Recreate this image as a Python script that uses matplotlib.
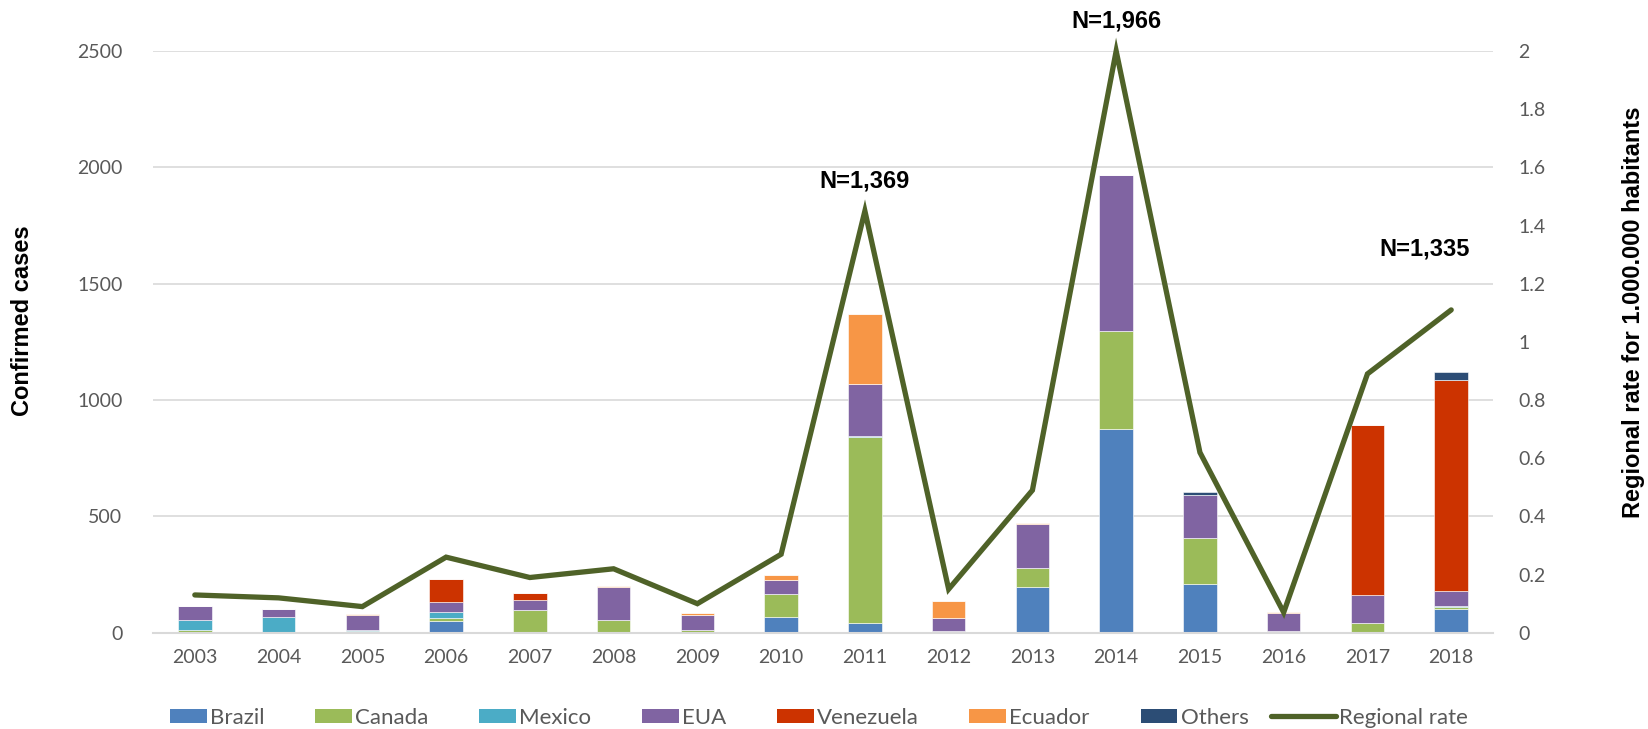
import matplotlib
matplotlib.use("Agg")
import matplotlib.pyplot as plt
import numpy as np
from matplotlib.lines import Line2D
from matplotlib.patches import Patch
from matplotlib.legend_handler import HandlerLine2D

years = ["2003", "2004", "2005", "2006", "2007", "2008", "2009", "2010",
         "2011", "2012", "2013", "2014", "2015", "2016", "2017", "2018"]

brazil = [2, 0, 0, 52, 0, 0, 0, 66, 40, 0, 195, 875, 209, 0, 0, 102]
canada = [12, 4, 8, 13, 98, 57, 11, 100, 803, 9, 83, 421, 199, 9, 43, 8]
mexico = [43, 63, 6, 26, 0, 0, 0, 0, 4, 0, 0, 0, 0, 0, 0, 7]
eua = [56, 36, 63, 43, 43, 138, 67, 62, 224, 53, 189, 670, 186, 78, 119, 62]
venezuela = [0, 0, 0, 99, 29, 0, 0, 0, 0, 0, 0, 0, 0, 0, 729, 907]
ecuador = [2, 0, 2, 0, 3, 7, 7, 22, 298, 76, 3, 0, 0, 3, 0, 2]
others = [0, 0, 0, 0, 0, 0, 0, 0, 0, 0, 0, 0, 13, 0, 0, 33]

regional_rate = [0.13, 0.12, 0.09, 0.26, 0.19, 0.22, 0.10, 0.27,
                 1.45, 0.15, 0.49, 2.00, 0.62, 0.07, 0.89, 1.11]

series_names = ["Brazil", "Canada", "Mexico", "EUA", "Venezuela", "Ecuador", "Others"]
series_values = [brazil, canada, mexico, eua, venezuela, ecuador, others]
series_colors = ["#4F81BD", "#9BBB59", "#4BACC6", "#8064A2", "#CC3300", "#F79646", "#2C4D75"]
line_color = "#4F6228"

callouts = [(8, 1940, "N=1,369"), (11, 2630, "N=1,966"), (14.68, 1648, "N=1,335")]

tick_font = "Lato"
title_font = "Liberation Sans"
grey = "#595959"


class WideLineHandler(HandlerLine2D):
    """Legend line key that reaches further left than the patch keys."""

    def __init__(self, extra, **kw):
        super().__init__(**kw)
        self.extra = extra

    def create_artists(self, legend, orig_handle, xdescent, ydescent,
                       width, height, fontsize, trans):
        y = height / 2.0 - ydescent
        ln = Line2D([-xdescent - self.extra, -xdescent + width], [y, y])
        self.update_prop(ln, orig_handle, legend)
        ln.set_transform(trans)
        return [ln]


fig = plt.figure(figsize=(16.48, 7.29), dpi=100)
ax = fig.add_axes([0.0928, 0.132, 0.8132, 0.798])

x = np.arange(len(years))
bottom = np.zeros(len(years))
for name, vals, col in zip(series_names, series_values, series_colors):
    v = np.array(vals, dtype=float)
    ax.bar(x, v, width=0.4, bottom=bottom, color=col, edgecolor="white",
           linewidth=0.4, zorder=2)
    bottom += v

ax.set_xlim(-0.5, len(years) - 0.5)
ax.set_ylim(0, 2500)
ax.set_yticks(range(0, 2501, 500))
ax.set_xticks(x)
ax.set_xticklabels(years)
ax.grid(axis="y", color="#D9D9D9", linewidth=1.2, zorder=0)
ax.set_axisbelow(True)
for side in ["left", "right", "top"]:
    ax.spines[side].set_visible(False)
ax.spines["bottom"].set_color("#D9D9D9")
ax.spines["bottom"].set_linewidth(1.5)
ax.tick_params(axis="both", length=0, labelsize=14, labelcolor=grey)
ax.tick_params(axis="y", pad=22)
ax.tick_params(axis="x", pad=12)
for lab in ax.get_xticklabels() + ax.get_yticklabels():
    lab.set_fontfamily(tick_font)

ax2 = ax.twinx()
ax2.set_ylim(0, 2)
ax2.set_yticks(np.arange(0, 2.01, 0.2))
ax2.set_yticklabels(["%g" % round(t, 1) for t in np.arange(0, 2.01, 0.2)])
for side in ["left", "right", "top", "bottom"]:
    ax2.spines[side].set_visible(False)
ax2.tick_params(axis="y", length=0, labelsize=14, labelcolor=grey, pad=18)
for lab in ax2.get_yticklabels():
    lab.set_fontfamily(tick_font)
ax2.plot(x, regional_rate, color=line_color, linewidth=3.8, zorder=3,
         solid_capstyle="round", solid_joinstyle="miter", clip_on=False)

for xi, yi, txt in callouts:
    ax.text(xi, yi, txt, ha="center", va="center", fontsize=17,
            fontweight="bold", family=title_font, color="black", clip_on=False)

fig.text(0.0134, 0.56, "Confirmed cases", rotation=90, ha="center", va="center",
         fontsize=17, fontweight="bold", family=title_font)
fig.text(0.9915, 0.571, "Regional rate for 1.000.000 habitants", rotation=90,
         ha="center", va="center", fontsize=17, fontweight="bold", family=title_font)

handles = [Patch(facecolor=c, edgecolor="none") for c in series_colors]
rate_handle = Line2D([0], [0], color=line_color, linewidth=3.8, solid_capstyle="round")
handles.append(rate_handle)
labels = series_names + ["Regional rate"]
leg = fig.legend(handles, labels, loc="center", bbox_to_anchor=(0.497, 0.015),
                 ncol=8, frameon=False, handlelength=1.65, handleheight=0.62,
                 handletextpad=0.15, columnspacing=2.28,
                 handler_map={rate_handle: WideLineHandler(extra=20)},
                 prop={"family": tick_font, "size": 16})
for t in leg.get_texts():
    t.set_color(grey)

fig.savefig("out.png", dpi=100)
